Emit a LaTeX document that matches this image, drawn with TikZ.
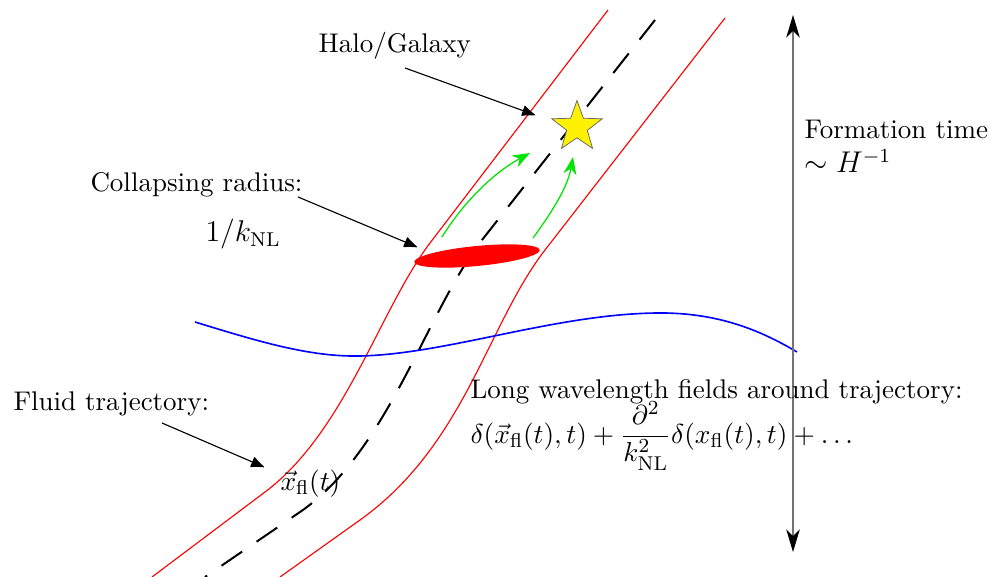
\documentclass[tikz,border=0pt]{standalone}
\usetikzlibrary{arrows.meta,shapes.geometric,shapes.misc}
\begin{document}
\begin{tikzpicture}[x=0.4pt,y=-0.4pt,
  lbl/.style={font=\fontsize{10.8}{13}\selectfont, inner sep=0pt, anchor=base west},
  biglbl/.style={font=\fontsize{12}{14}\selectfont, inner sep=0pt, anchor=base west},
  tube/.style={red, line width=0.45pt},
  annot/.style={black, line width=0.45pt, -{Latex[length=5.8pt,width=4.6pt,round]}},
  grarrow/.style={green!90!black, line width=0.5pt, -{Stealth[length=7pt,width=5.2pt]}},
]
\useasboundingbox (0,0) rectangle (990,577);
% tube
\draw[tube] (608,10) -- (430,243) .. controls (380,309) and (345,432) .. (265,492) -- (152,577);
\draw[tube] (725,18) -- (545,250) .. controls (487,325) and (465,445) .. (360,520) -- (280,577);
% center dashed trajectory
\draw[black, line width=0.8pt, dash pattern=on 10pt off 7pt] (655,20) -- (482,240) .. controls (427,310) and (388,452) .. (300,512) -- (205,577);
% blue long wavelength mode
\draw[blue, line width=0.65pt] (195,322) .. controls (260,342) and (310,357) .. (360,356) .. controls (450,354) and (560,312) .. (665,313) .. controls (720,314) and (760,330) .. (797,352);
% collapsing region
\node[ellipse, fill=red, minimum width=50.4pt, minimum height=8pt, inner sep=0pt, rotate=5.5] (blob) at (477,256) {};
% halo star
\node[star, star points=5, star point ratio=2.45, fill=yellow, draw=black!60, line width=0.3pt, minimum size=21.2pt, inner sep=0pt] (halo) at (577,127) {};
% green arrows
\coordinate (g1s) at (442,237);
\coordinate (g1e) at (530,153);
\coordinate (g2s) at (533,238);
\coordinate (g2e) at (573,157);
\draw[grarrow] (g1s) .. controls (465,200) and (495,172) .. (g1e);
\draw[grarrow] (g2s) .. controls (555,208) and (568,185) .. (g2e);
% formation time arrow
\coordinate (ttop) at (793,15);
\coordinate (tbot) at (793,552);
\draw[black!55, line width=0.5pt, {Stealth[length=9pt,width=5.4pt,inset=2.6pt,black]}-{Stealth[length=9pt,width=5.4pt,inset=2.6pt,black]}] (tbot) -- (ttop);
% labels
\node[lbl] (halolbl) at (318,53) {Halo/Galaxy};
\node[lbl] (formlbl) at (804,139) {Formation time};
\node[biglbl] (hubble) at (804,173) {$\sim H^{-1}$};
\node[lbl] (colllbl) at (90,192) {Collapsing radius:};
\node[biglbl] (knl) at (205,242) {$1/k_{\rm NL}$};
\node[lbl] (fluidlbl) at (13,410) {Fluid trajectory:};
\node[lbl, font=\fontsize{11.1}{13}\selectfont] (xfl) at (280,490) {$\vec{x}_{\rm fl}(t)$};
\node[lbl] (longlbl) at (470,398) {Long wavelength fields around trajectory:};
\node[lbl, font=\fontsize{11}{13}\selectfont] (formula) at (470,443) {$\delta(\vec{x}_{\rm fl}(t),t)+{\displaystyle\frac{\partial^2}{k_{\rm NL}^2}}\delta(x_{\rm fl}(t),t)+\ldots$};
% annotation arrows
\coordinate (haloS) at (405,68);
\coordinate (haloT) at (535,115);
\coordinate (collS) at (298,197);
\coordinate (collT) at (417,247);
\coordinate (fluidS) at (162,423);
\coordinate (fluidT) at (264,467);
\draw[annot] (haloS) -- (haloT);
\draw[annot] (collS) -- (collT);
\draw[annot] (fluidS) -- (fluidT);
\end{tikzpicture}
\end{document}
